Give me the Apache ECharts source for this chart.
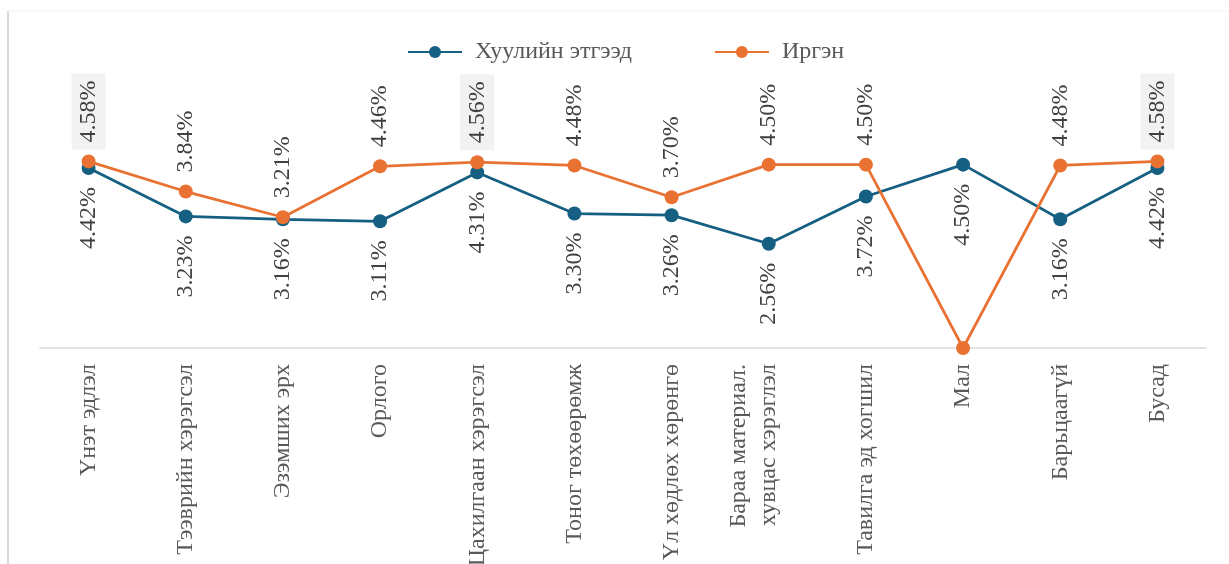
<!DOCTYPE html>
<html>
<head>
<meta charset="utf-8">
<script src="https://cdn.jsdelivr.net/npm/echarts@6/dist/echarts.min.js"></script>
<style>html,body{margin:0;padding:0;background:#fff;}#c{width:1229px;height:564px;}</style>
</head>
<body>
<div id="c"></div>
<script>
const categories = ['Үнэт эдлэл','Тээврийн хэрэгсэл','Эзэмших эрх','Орлого','Цахилгаан хэрэгсэл','Тоног төхөөрөмж','Үл хөдлөх хөрөнгө','Бараа материал.\nхувцас хэрэглэл','Тавилга эд хогшил','Мал','Барьцаагүй','Бусад'];
const legalEntity = [4.42, 3.23, 3.16, 3.11, 4.31, 3.30, 3.26, 2.56, 3.72, 4.50, 3.16, 4.42];
const citizen = [4.58, 3.84, 3.21, 4.46, 4.56, 4.48, 3.70, 4.50, 4.50, 0, 4.48, 4.58];
const highlighted = [0, 4, 11];
const seriesNames = ['Хуулийн этгээд', 'Иргэн'];

const FONT = '"Liberation Serif", "Times New Roman", serif';
const BLUE = '#156082', ORANGE = '#E97132';

const chart = echarts.init(document.getElementById('c'), null, {renderer: 'canvas'});

const citizenData = citizen.map((v, i) => {
  const d = {value: v};
  if (v === 0) d.label = {show: false};
  if (highlighted.indexOf(i) >= 0) d.label = {backgroundColor: '#f2f2f2'};
  return d;
});

chart.setOption({
  animation: false,
  backgroundColor: '#fff',
  textStyle: {fontFamily: FONT},
  legend: {
    top: 35, left: 402,
    itemWidth: 54, itemHeight: 15, itemGap: 82,
    textStyle: {fontFamily: FONT, fontSize: 24, color: '#595959', padding: [0, 0, 0, 8]},
    data: seriesNames
  },
  grid: {left: 40, right: 23, top: 18, bottom: 216, containLabel: false, outerBoundsMode: 'none'},
  xAxis: {
    type: 'category', data: categories, boundaryGap: true,
    axisLine: {lineStyle: {color: '#d9d9d9', width: 1.5}},
    axisTick: {show: false},
    axisLabel: {rotate: 90, interval: 0, margin: 16, fontFamily: FONT, fontSize: 24, color: '#595959', lineHeight: 30,
      formatter: v => v.indexOf('\n') >= 0 ? v + '\n ' : v}
  },
  yAxis: {type: 'value', min: 0, max: 8.1, show: false, splitLine: {show: false}},
  graphic: [
    {type: 'line', shape: {x1: 8, y1: 11, x2: 8, y2: 564}, style: {stroke: '#d9d9d9', lineWidth: 2}, silent: true},
    {type: 'line', shape: {x1: 8, y1: 11, x2: 1229, y2: 11}, style: {stroke: '#f2f2f2', lineWidth: 1}, silent: true}
  ],
  series: [
    {
      name: seriesNames[0], type: 'line', data: legalEntity,
      symbol: 'circle', symbolSize: 14,
      lineStyle: {color: BLUE, width: 2.75}, itemStyle: {color: BLUE},
      label: {show: true, position: 'bottom', distance: 12, rotate: 90, align: 'right', verticalAlign: 'middle',
        fontFamily: FONT, fontSize: 24, color: '#404040', formatter: p => p.value.toFixed(2) + '%'},
      z: 2
    },
    {
      name: seriesNames[1], type: 'line', data: citizenData,
      symbol: 'circle', symbolSize: 14,
      lineStyle: {color: ORANGE, width: 2.75}, itemStyle: {color: ORANGE},
      label: {show: true, position: 'top', distance: 5, rotate: 90, align: 'left', verticalAlign: 'middle',
        padding: [5, 7], fontFamily: FONT, fontSize: 24, color: '#404040', formatter: p => p.value.toFixed(2) + '%'},
      z: 3
    }
  ]
});
</script>
</body>
</html>
